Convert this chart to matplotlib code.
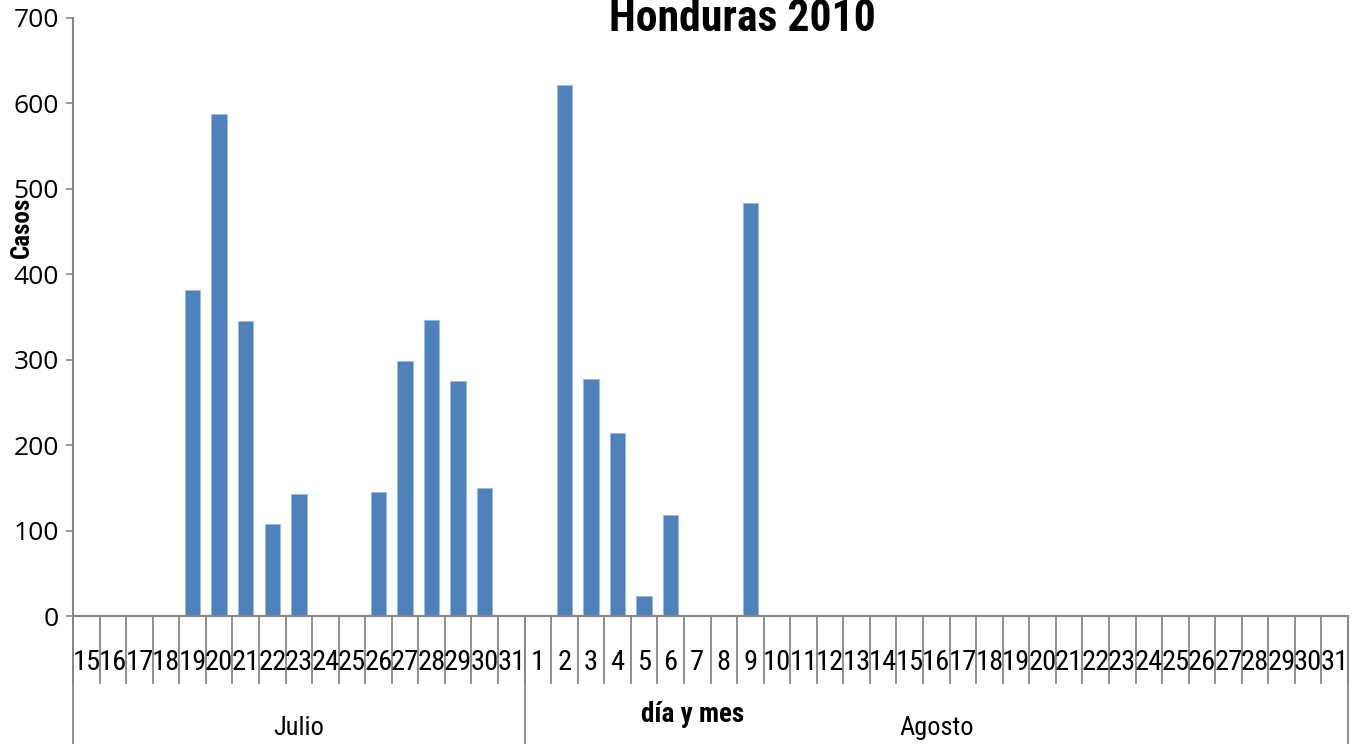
import matplotlib
matplotlib.use("Agg")
import matplotlib.pyplot as plt
import matplotlib.transforms as mtransforms
from matplotlib import font_manager as fm

months = ["Julio", "Agosto"]
julio_days = list(range(15, 32))
agosto_days = list(range(1, 32))
julio_vals = [0, 0, 0, 0, 381, 587, 345, 108, 143, 0, 0, 145, 298, 347, 275, 150, 0]
agosto_vals = [0, 622, 277, 214, 23, 118, 0, 0, 483] + [0] * 22
y_ticks = [0, 100, 200, 300, 400, 500, 600, 700]

labels = [str(d) for d in julio_days] + [str(d) for d in agosto_days]
values = julio_vals + agosto_vals
n = len(values)


def find_narrow(bold):
    pref = ["Liberation Sans Narrow", "Arial Narrow", "Roboto Condensed",
            "Open Sans Condensed", "Noto Sans", "DejaVu Sans", "Open Sans", "Roboto"]
    cands = []
    for f in fm.fontManager.ttflist:
        nm = f.name
        fl = f.fname.lower()
        narrowish = ("narrow" in nm.lower() or "condensed" in nm.lower()
                     or "condensed" in fl or "narrow" in fl
                     or f.stretch in ("condensed", "semi-condensed"))
        if not narrowish or "extra" in fl or "semi" in fl or "ultra" in fl:
            continue
        if "italic" in fl or "oblique" in fl or f.style != "normal":
            continue
        w = f.weight if isinstance(f.weight, int) else (700 if "bold" in str(f.weight) else 400)
        if bold and w < 600:
            continue
        if not bold and w != 400:
            continue
        if "light" in fl or "black" in fl or "medium" in fl or "thin" in fl:
            continue
        rank = next((i for i, p in enumerate(pref) if nm.startswith(p)), 99)
        cands.append((rank, f.fname))
    cands.sort()
    return cands[0][1] if cands else None


reg_path = find_narrow(False)
bold_path = find_narrow(True)


def fp(size, bold=False):
    path = bold_path if bold else reg_path
    if path:
        return fm.FontProperties(fname=path, size=size)
    return fm.FontProperties(family="DejaVu Sans", size=size,
                             weight="bold" if bold else "normal")


grey = "#868686"
bar_color = "#4f81bd"

fig = plt.figure(figsize=(13.53, 7.44), dpi=100)
ax = fig.add_axes([0.054, 0.172, 0.9423, 0.804])
ax.bar(range(n), values, width=0.58, color=bar_color, edgecolor="#9dbbe0", linewidth=0.6)
ax.set_xlim(-0.5, n - 0.5)
ax.set_ylim(0, 700)
ax.set_yticks(y_ticks)
ax.set_yticklabels([str(v) for v in y_ticks], fontsize=19,
                   family=["Open Sans", "Liberation Sans", "DejaVu Sans"])
ax.tick_params(axis="y", length=5, color=grey, width=1.2, pad=5)
ax.set_xticks([])
for s in ["top", "right"]:
    ax.spines[s].set_visible(False)
for s in ["left", "bottom"]:
    ax.spines[s].set_color(grey)
    ax.spines[s].set_linewidth(1.5)

trans = mtransforms.blended_transform_factory(ax.transData, ax.transAxes)
for i in range(n + 1):
    ax.plot([i - 0.5, i - 0.5], [0, -0.112], transform=trans, color=grey,
            lw=1.3, clip_on=False)
for i, lab in enumerate(labels):
    ax.text(i, -0.077, lab, transform=trans, ha="center", va="center",
            fontproperties=fp(20.5))
bounds = [0, len(julio_days), n]
for b in bounds:
    ax.plot([b - 0.5, b - 0.5], [0, -0.215], transform=trans, color=grey,
            lw=1.3, clip_on=False)
for m, (a, b) in zip(months, zip(bounds[:-1], bounds[1:])):
    ax.text((a + b - 1) / 2, -0.188, m, transform=trans, ha="center", va="center",
            fontproperties=fp(19))

fig.text(0.512, 0.040, "día y mes", ha="center", va="center", fontproperties=fp(19.5, True))
fig.text(0.016, 0.694, "Casos", ha="center", va="center", rotation=90,
         fontproperties=fp(18, True))
fig.text(0.549, 0.974, "Honduras 2010", ha="center", va="center", fontproperties=fp(31.5, True))

fig.savefig("out.png", dpi=100)
